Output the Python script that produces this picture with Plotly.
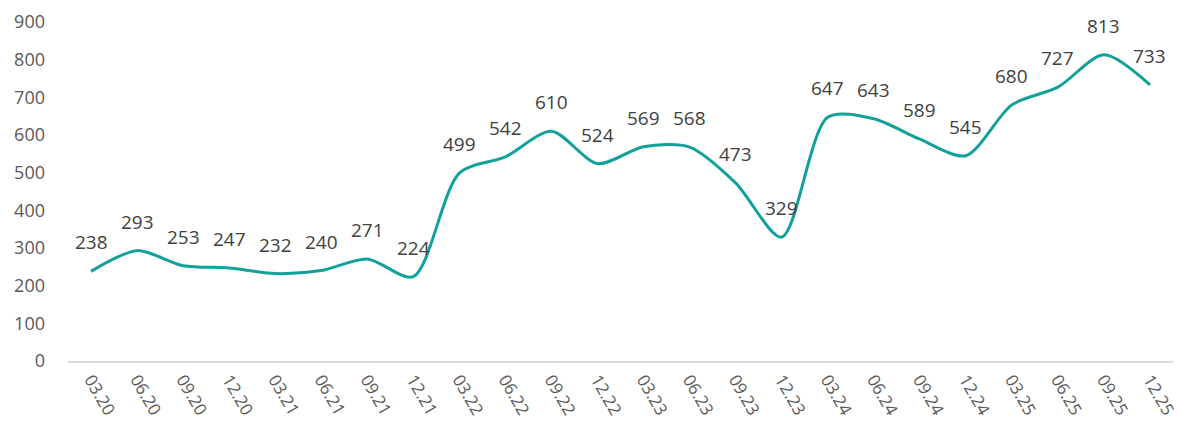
import plotly.graph_objects as go

categories = ["03.20","06.20","09.20","12.20","03.21","06.21","09.21","12.21",
              "03.22","06.22","09.22","12.22","03.23","06.23","09.23","12.23",
              "03.24","06.24","09.24","12.24","03.25","06.25","09.25","12.25"]
values = [238,293,253,247,232,240,271,224,499,542,610,524,569,568,473,329,
          647,643,589,545,680,727,813,733]
y_ticks = [0,100,200,300,400,500,600,700,800,900]

idx = list(range(len(categories)))

fig = go.Figure()
fig.add_trace(go.Scatter(
    x=idx, y=values, mode="lines",
    line=dict(color="#12A09A", width=3, shape="spline", smoothing=0.8),
    hoverinfo="skip", showlegend=False))

annotations = [dict(x=i, y=v, text=str(v), showarrow=False, yshift=29,
                    font=dict(family="Open Sans", size=19, color="#404040"))
               for i, v in zip(idx, values)]

fig.update_layout(
    width=1183, height=434,
    margin=dict(l=68, r=10, t=22, b=73),
    paper_bgcolor="white", plot_bgcolor="white",
    annotations=annotations,
    xaxis=dict(range=[-0.5, len(categories) - 0.5],
               tickvals=idx, ticktext=categories,
               showline=True, linecolor="#D9D9D9", linewidth=2,
               showgrid=False, zeroline=False, ticks="",
               tickangle=60, automargin=False,
               tickfont=dict(family="Open Sans", size=17, color="#595959")),
    yaxis=dict(range=[0, 900], tickvals=y_ticks, showgrid=False,
               zeroline=False, showline=False, ticks="",
               ticklabelstandoff=22, automargin=False,
               tickfont=dict(family="Open Sans", size=18, color="#595959")),
)
fig.write_html("out.html", config={"displayModeBar": False},
               post_script="document.body.style.margin='0';document.body.style.overflow='hidden';")
